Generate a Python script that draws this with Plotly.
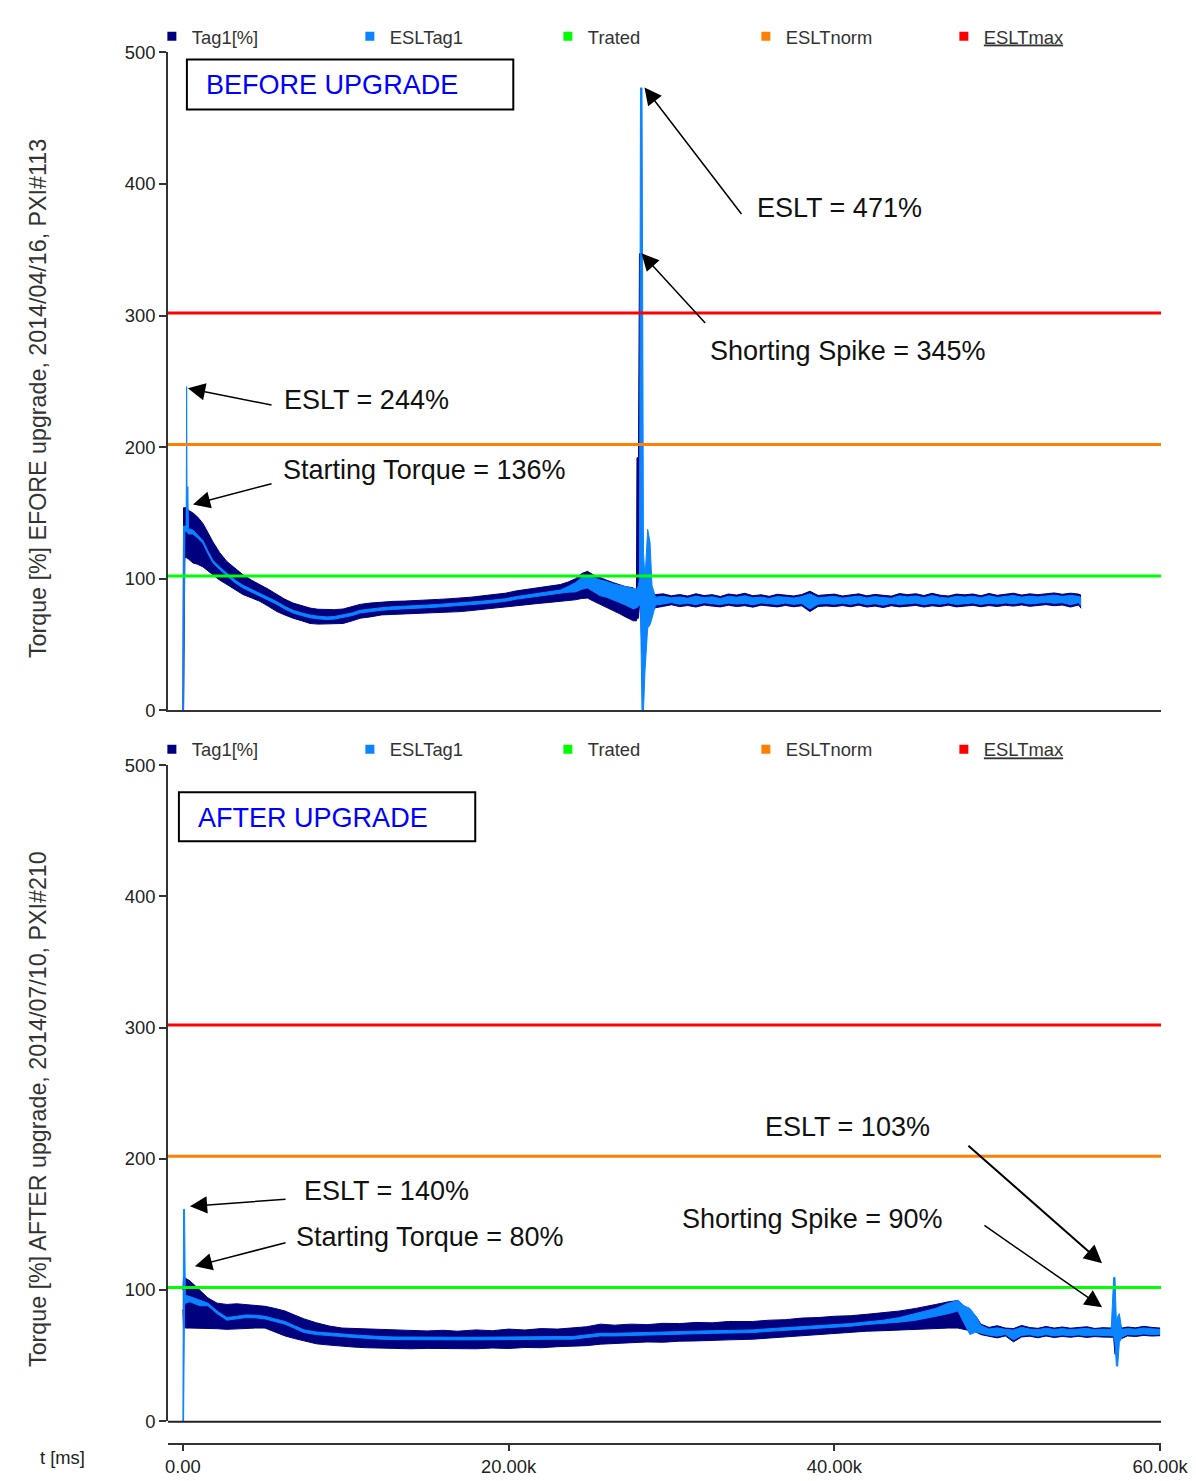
import plotly.graph_objects as go

# Calibration of the photographed page: picture px = S * page px + O.
SX, OX = 0.975, 2.5
SY, OY = 0.986, 9.7
MARGIN = 8          # default body margin of the page
FS = 1.02           # font compensation for the photo scaling
FONT = "Liberation Sans, Arial, sans-serif"


def fx(X):
    return (X - OX) / SX - MARGIN


def fy(Y):
    return (Y - OY) / SY - MARGIN


W = int(round(fx(1196)))
H = int(round(fy(1481)))


def px(X):
    return fx(X) / W


def py(Y):
    return 1 - fy(Y) / H


# ---------------- data ----------------
X_RANGE = [-922, 60061]
Y_TICKS = [0, 100, 200, 300, 400, 500]
X_TICKS = [0, 20000, 40000, 60000]
X_TICK_LABELS = ["0.00", "20.00k", "40.00k", "60.00k"]

TRATED = 102
ESLTNORM = 202
ESLTMAX = 302

# BEFORE upgrade: time [ms], Tag1 envelope (max/min) and ESLTag1 envelope (max/min) in %
TOP_T = [0, 40, 120, 200, 230, 260, 300, 340, 615, 900,
         1230, 1540, 1845, 2250, 2705, 3200, 3690, 4200, 4734, 5250,
         5780, 6250, 6763, 7300, 7808, 8300, 8853, 9300, 9837, 10400,
         10882, 11500, 12200, 12911, 13600, 14300, 15001, 15700, 16400, 17030,
         17700, 18400, 19059, 19800, 20500, 21149, 21800, 22500, 23178, 23650,
         24100, 24500, 24840, 25200, 25637, 26000, 26436, 26800, 27174, 27450,
         27666, 27850, 27881, 27973, 28035, 28097, 28189, 28281, 28373, 28539,
         28680, 28803, 29019,
         29500, 30000, 30500, 31000, 31500, 32000, 32500, 33000, 33500, 34000,
         34500, 35000, 35500, 36000, 36500, 37000, 37500, 38000, 38500, 39000,
         39500, 40000, 40500, 41000, 41500, 42000, 42500, 43000, 43500, 44000,
         44500, 45000, 45500, 46000, 46500, 47000, 47500, 48000, 48500, 49000,
         49500, 50000, 50500, 51000, 51500, 52000, 52500, 53000, 53500, 54000,
         54500, 55000, 55150]
TOP_TAG1_HI = [0, 154, 154, 154, 154, 153, 153, 152, 150, 147,
               142, 135, 128, 120, 113, 108, 103, 99, 95.6, 92,
               88, 84.5, 81.5, 79.5, 77.7, 76.8, 76.5, 76.5, 77, 78.8,
               80.5, 81.5, 82.2, 82.8, 83, 83.6, 84, 84.3, 84.8, 85.3,
               86, 87, 88, 89, 90.8, 92, 93, 94.3, 95.6, 97.5,
               100, 104, 105.6, 103, 100.5, 99, 97, 95.5, 94, 93.5,
               93, 90, 192, 192, 347, 347, 110, 95, 90, 100,
               92, 90, 88,
               88.5, 87.0, 88.0, 86.8, 88.6, 87.2, 87.9, 86.5, 88.4, 87.6,
               88.9, 87.1, 87.8, 86.6, 88.2, 87.4, 86.9, 88.0, 90.5, 87.3,
               87.6, 88.3, 86.9, 87.7, 88.5, 87.0, 88.1, 87.4, 86.8, 88.7,
               87.9, 88.6, 87.2, 88.9, 87.5, 86.9, 88.3, 87.8, 88.4, 87.1,
               88.8, 87.4, 88.1, 89.0, 87.6, 88.5, 87.9, 88.7, 89.2, 88.2,
               89.0, 88.3, 87.5]
TOP_TAG1_LO = [0, 0, 116, 116, 116, 116, 115, 115, 112, 111,
               109, 106, 103, 99, 95.6, 92, 88, 85.5, 82.8, 79,
               75, 72.5, 70, 68, 66, 65.5, 65.6, 65.4, 66, 68,
               70, 71, 72.5, 72.9, 73.2, 73.6, 74, 74.3, 74.6, 75,
               75.8, 76.8, 77.7, 78.5, 79.6, 80.5, 81.2, 82, 82.8, 83.5,
               84, 85, 85.3, 83, 80.5, 78.5, 76, 73.5, 71, 69.5,
               68, 68, 70, 70, 80, 80, 43, 43, 60, 70,
               72, 75, 78,
               79.0, 80.2, 78.8, 79.6, 78.5, 80.0, 79.2, 78.6, 79.8, 78.9,
               79.5, 78.4, 79.9, 79.1, 78.6, 79.7, 78.7, 79.4, 75.0, 78.9,
               79.3, 78.8, 79.6, 78.7, 79.9, 78.5, 79.2, 78.1, 79.5, 78.6,
               79.0, 79.7, 78.5, 79.4, 78.8, 79.9, 78.6, 79.3, 79.8, 78.7,
               79.6, 78.9, 79.8, 79.2, 80.1, 79.0, 79.7, 80.3, 79.5, 80.0,
               78.5, 80.0, 77.5]
TOP_ESLT_HI = [0, 140, 140, 140, 246, 138, 170, 138, 137, 133,
               129, 121, 114, 109, 104, 99, 95, 92, 89, 85.5,
               82.5, 79, 76, 74, 72.4, 71.5, 71, 71.3, 72.4, 74,
               76, 77, 78, 78.7, 79, 79.5, 80, 80.5, 81, 81.5,
               82.2, 83, 83.8, 84.8, 86.5, 87.6, 88.8, 90, 91.4, 94,
               97, 101, 102, 101, 99, 98, 96, 95, 94, 93.5,
               93, 92, 92, 95, 100, 473, 473, 120, 100, 137.5,
               128, 95, 86,
               86.6, 85.5, 86.2, 85.2, 86.8, 85.6, 86.3, 84.9, 86.7, 85.9,
               87.1, 85.5, 86.1, 85.0, 86.5, 85.8, 85.3, 86.4, 88.6, 85.6,
               85.9, 86.6, 85.3, 86.0, 86.8, 85.4, 86.4, 85.7, 85.2, 87.0,
               86.2, 86.9, 85.6, 87.2, 85.8, 85.3, 86.6, 86.1, 86.7, 85.5,
               87.1, 85.8, 86.4, 87.3, 86.0, 86.8, 86.2, 87.0, 87.5, 86.6,
               87.3, 86.6, 85.8]
TOP_ESLT_LO = [0, 0, 136, 136, 136, 135, 135, 134, 134, 131,
               127, 119, 112, 107, 102, 97, 93, 90, 87, 83.5,
               80.5, 77, 74, 72, 70.4, 69.5, 69, 69.3, 70.4, 72,
               74, 75, 76, 76.7, 77, 77.5, 78, 78.5, 79, 79.5,
               80.2, 81, 81.8, 82.8, 84.5, 85.6, 86.8, 88, 89.4, 89.8,
               90, 92, 93, 90, 87, 86, 84, 82, 80, 78.5,
               77, 78, 78, 79, 80, 80, 0, 0, 30, 62.5,
               65, 70, 80,
               80.8, 81.9, 80.6, 81.4, 80.3, 81.8, 81.0, 80.4, 81.5, 80.7,
               81.3, 80.2, 81.6, 80.9, 80.4, 81.5, 80.5, 81.2, 77.0, 80.7,
               81.1, 80.6, 81.4, 80.5, 81.7, 80.3, 81.0, 79.9, 81.3, 80.4,
               80.8, 81.5, 80.3, 81.2, 80.6, 81.7, 80.4, 81.1, 81.6, 80.5,
               81.4, 80.7, 81.6, 81.0, 81.9, 80.8, 81.5, 82.1, 81.3, 81.8,
               80.3, 81.8, 79.3]

# AFTER upgrade
BOT_T = [0, 40, 100, 150, 430, 1045, 1537, 2100, 2705, 3300,
         3873, 4450, 5041, 5650, 6271, 6850, 7439, 8200, 9000, 9775,
         10500, 11300, 12173, 13000, 14000, 15000, 16000, 16846, 18000, 19000,
         20000, 21000, 22000, 23000, 23916, 24800, 25637, 26500, 27500, 28500,
         29500, 30500, 31500, 32500, 33500, 34982, 36000, 37000, 38000, 39000,
         40000, 41000, 41991, 43000, 44000, 45000, 45700, 46233, 47000, 47586,
         47955, 48323, 48692, 49000,
         49500, 50000, 50500, 51000, 51500, 52000, 52500, 53000, 53500, 54000,
         54500, 55000, 55500, 56000, 56500, 57000, 57150, 57230, 57320, 57400,
         57500, 57650, 58000, 58500, 59000, 59500, 60000]
BOT_TAG1_HI = [100, 110, 110, 109, 107, 100, 94, 90, 89, 89.5,
               89, 88.5, 87.6, 86, 84, 81, 78, 75, 72.5, 71,
               70.6, 70.3, 70, 69.5, 69.2, 68.8, 69.3, 68.6, 69.6, 69,
               70.2, 69.5, 70.6, 70.2, 71, 72, 74, 73.2, 74, 73.6,
               74.6, 74.4, 75.3, 75, 76, 76, 77, 77.4, 78.6, 79,
               80, 80.4, 81.5, 82.5, 84, 86, 87.5, 89, 91, 92,
               88, 81, 80, 74,
               71.5, 72.8, 71.0, 70.6, 73.0, 71.4, 70.8, 72.2, 71.0, 71.8,
               70.9, 71.6, 72.0, 70.7, 71.3, 71.0, 79, 79, 72, 72,
               74, 71, 71.8, 71.2, 72.3, 71.5, 71.0]
BOT_TAG1_LO = [85, 72, 72, 71, 71, 71, 71, 70.5, 70, 70.5,
               71, 71, 71, 68, 65, 63, 61, 59, 58, 57,
               56.5, 56, 55.6, 55.4, 55.2, 55.5, 55.3, 55.6, 55.2, 55.8,
               55.4, 56.2, 56, 56.8, 57, 57.6, 58.7, 59.2, 59.6, 60.4,
               60.2, 61, 61.2, 61.8, 62, 62.5, 63.4, 64, 64.8, 65.6,
               66.5, 67.4, 68.6, 69, 69.6, 70.2, 70.6, 71, 71, 71,
               70, 68.6, 68, 66,
               64.5, 63.5, 65.0, 60.5, 64.2, 64.8, 63.6, 64.9, 63.8, 64.6,
               64.0, 64.7, 63.9, 64.5, 64.1, 64.0, 64, 51, 51, 60,
               62, 63, 65.0, 64.6, 65.4, 64.9, 65.2]
BOT_ESLT_HI = [0, 161.5, 161.5, 96, 95, 92, 90, 84, 79, 80,
               81, 80.8, 80, 78, 76, 72.8, 69.6, 68, 67, 66.5,
               65.8, 65, 64.5, 64.2, 64, 64, 64, 64, 64, 64.2,
               64.2, 64.3, 64.4, 64.5, 64.5, 65.5, 67, 67, 67.4, 67.6,
               68, 68.2, 68.8, 69, 69.2, 69.6, 70.5, 71.2, 72, 72.8,
               73.5, 74.4, 75.7, 77, 79, 82, 84, 86, 90, 92,
               88, 86, 80, 73,
               70.3, 71.2, 70.0, 69.5, 71.6, 70.2, 69.8, 71.0, 69.9, 70.6,
               69.8, 70.5, 70.8, 69.7, 70.2, 70.0, 109.6, 109.6, 75, 80,
               82, 70, 70.6, 70.1, 71.1, 70.4, 70.0]
BOT_ESLT_LO = [0, 0, 88, 90, 91, 88, 88, 82, 77, 78,
               79, 78.8, 78, 76, 74, 70.8, 67.6, 66, 65, 64.5,
               63.8, 63, 62.5, 62.2, 62, 62, 62, 62, 62, 62.2,
               62.2, 62.3, 62.4, 62.5, 62.5, 63.5, 65, 65, 65.4, 65.6,
               66, 66.2, 66.8, 67, 67.2, 67.6, 68.5, 69.2, 70, 70.8,
               71.5, 72.4, 73.7, 74.5, 75.5, 77, 78.5, 80, 82, 84,
               75, 66, 68, 67,
               65.6, 64.8, 66.1, 62.0, 65.4, 65.9, 64.8, 66.0, 65.0, 65.7,
               65.2, 65.8, 65.1, 65.6, 65.2, 65.1, 65, 60, 42, 42,
               60, 64, 66.1, 65.7, 66.5, 66.0, 66.3]

SERIES = ["Tag1[%]", "ESLTag1", "Trated", "ESLTnorm", "<u>ESLTmax</u>"]
NAVY = "#00007f"
LBLUE = "#0a84ff"
GREEN = "#00ff00"
ORANGE = "#ff8000"
RED = "#ff0000"
COLORS = [NAVY, LBLUE, GREEN, ORANGE, RED]

fig = go.Figure()


def add_panel(xa, ya, t, n_hi, n_lo, l_hi, l_lo):
    fig.add_trace(go.Scatter(x=t, y=n_lo, mode="lines", line=dict(color=NAVY, width=1),
                             xaxis=xa, yaxis=ya, showlegend=False, hoverinfo="skip"))
    fig.add_trace(go.Scatter(x=t, y=n_hi, mode="lines", line=dict(color=NAVY, width=1),
                             fill="tonexty", fillcolor=NAVY,
                             xaxis=xa, yaxis=ya, showlegend=False, hoverinfo="skip"))
    fig.add_trace(go.Scatter(x=t, y=l_lo, mode="lines", line=dict(color=LBLUE, width=1),
                             xaxis=xa, yaxis=ya, showlegend=False, hoverinfo="skip"))
    fig.add_trace(go.Scatter(x=t, y=l_hi, mode="lines", line=dict(color=LBLUE, width=1),
                             fill="tonexty", fillcolor=LBLUE,
                             xaxis=xa, yaxis=ya, showlegend=False, hoverinfo="skip"))
    for val, col in [(TRATED, GREEN), (ESLTNORM, ORANGE), (ESLTMAX, RED)]:
        fig.add_trace(go.Scatter(x=X_RANGE, y=[val, val], mode="lines",
                                 line=dict(color=col, width=3),
                                 xaxis=xa, yaxis=ya, showlegend=False, hoverinfo="skip"))


add_panel("x", "y", TOP_T, TOP_TAG1_HI, TOP_TAG1_LO, TOP_ESLT_HI, TOP_ESLT_LO)
add_panel("x2", "y2", BOT_T, BOT_TAG1_HI, BOT_TAG1_LO, BOT_ESLT_HI, BOT_ESLT_LO)

# legend entries (square swatches)
for leg, xa, ya in [("legend", "x", "y"), ("legend2", "x2", "y2")]:
    for name, col in zip(SERIES, COLORS):
        fig.add_trace(go.Scatter(x=[None], y=[None], mode="markers", name=name,
                                 marker=dict(symbol="square", size=9, color=col),
                                 xaxis=xa, yaxis=ya, legend=leg, hoverinfo="skip"))

AX_COL = "#333333"
yax = dict(range=[0, 500], tickvals=Y_TICKS, ticks="outside", ticklen=7, tickwidth=1.5,
           tickcolor=AX_COL, showline=True, linecolor=AX_COL, linewidth=1.5,
           showgrid=False, zeroline=False, fixedrange=True,
           tickfont=dict(family=FONT, size=18 * FS, color="#222222"))
xdom = [px(168), px(1160)]

legend_common = dict(orientation="h", xanchor="left", yanchor="middle", x=px(152),
                     entrywidth=153, entrywidthmode="pixels",
                     font=dict(family=FONT, size=18 * FS, color="#333333"),
                     bgcolor="rgba(0,0,0,0)", traceorder="normal", itemclick=False)

fig.update_layout(
    width=W, height=H,
    margin=dict(l=0, r=0, t=0, b=0),
    paper_bgcolor="white", plot_bgcolor="white",
    font=dict(family=FONT, color="#222222"),
    xaxis=dict(domain=xdom, range=X_RANGE, anchor="y", showline=True, linecolor=AX_COL,
               linewidth=1.5, ticks="", showticklabels=False, showgrid=False,
               zeroline=False, fixedrange=True),
    yaxis=dict(domain=[py(709), py(51)], anchor="x", **yax),
    xaxis2=dict(domain=xdom, range=X_RANGE, anchor="free", position=py(1443),
                showline=True, linecolor=AX_COL, linewidth=1.5, ticks="outside",
                ticklen=6, tickwidth=1.5, tickcolor=AX_COL, tickvals=X_TICKS,
                ticktext=X_TICK_LABELS, showgrid=False, zeroline=False, fixedrange=True,
                tickfont=dict(family=FONT, size=18 * FS, color="#222222")),
    yaxis2=dict(domain=[py(1420), py(764)], anchor="x2", **yax),
    legend=dict(y=py(35), **legend_common),
    legend2=dict(y=py(748), **legend_common),
    showlegend=True,
)

shapes = [
    # bottom panel baseline (y = 0), drawn in paper space so it is not clipped
    dict(type="line", xref="paper", yref="paper", x0=px(168), x1=px(1160),
         y0=py(1420.5), y1=py(1420.5), line=dict(color="#222222", width=2)),
    # title boxes
    dict(type="rect", xref="paper", yref="paper", x0=px(187), x1=px(513), y0=py(108), y1=py(58),
         line=dict(color="black", width=2), fillcolor="white", layer="below"),
    dict(type="rect", xref="paper", yref="paper", x0=px(179), x1=px(475), y0=py(840), y1=py(791),
         line=dict(color="black", width=2), fillcolor="white", layer="below"),
    # window shadow on the right edge
    dict(type="rect", xref="paper", yref="paper", x0=px(1189), x1=1, y0=0, y1=py(8),
         line=dict(width=0), fillcolor="#b4b4b4"),
    dict(type="rect", xref="paper", yref="paper", x0=px(1189), x1=px(1192), y0=0, y1=py(8),
         line=dict(width=0), fillcolor="#9a9a9a"),
]
fig.update_layout(shapes=shapes)

ann = []


def label(text, xx, yy, xr, yr, color="#111111"):
    ann.append(dict(text=text, x=xx, y=yy, xref=xr, yref=yr, xanchor="left",
                    yanchor="middle", showarrow=False,
                    font=dict(family=FONT, size=26.5 * FS, color=color)))


def arrow(x_tip, y_tip, x_tail, y_tail, xr, yr, w=1.5):
    ann.append(dict(text="", x=x_tip, y=y_tip, ax=x_tail, ay=y_tail, xref=xr, yref=yr,
                    axref=xr, ayref=yr, showarrow=True, arrowhead=2,
                    arrowsize=2.3 if w < 2 else 1.8,
                    arrowwidth=w, arrowcolor="black", standoff=0))


# box titles
label("BEFORE UPGRADE", px(204), py(84), "paper", "paper", color="#0000ff")
label("AFTER UPGRADE", px(196), py(817), "paper", "paper", color="#0000ff")

# top panel callouts
label("ESLT = 244%", 6100, 235.6, "x", "y")
arrow(307, 244.7, 5533, 231.8, "x", "y")
label("Starting Torque = 136%", 6040, 182.4, "x", "y")
arrow(615, 156.5, 5533, 172.5, "x", "y")
label("ESLT = 471%", 35120, 381.5, "x", "y")
arrow(28342, 473.4, 34368, 376, "x", "y")
label("Shorting Spike = 345%", 32230, 272.8, "x", "y")
arrow(28158, 347.3, 32154, 293.3, "x", "y")

# bottom panel callouts
label("ESLT = 140%", 7330, 175.3, "x2", "y2")
arrow(430, 163.9, 6394, 169.2, "x2", "y2")
label("Starting Torque = 80%", 6840, 140.2, "x2", "y2")
arrow(738, 118.1, 6394, 136.4, "x2", "y2")
label("ESLT = 103%", 35610, 224, "x2", "y2")
arrow(56439, 120.4, 48139, 211, "x2", "y2", w=2)
label("Shorting Spike = 90%", 30510, 154, "x2", "y2")
arrow(56439, 86.9, 49123, 150, "x2", "y2")

# axis titles
ann.append(dict(text="Torque [%] EFORE upgrade, 2014/04/16, PXI#113", x=px(39), y=py(397),
                xref="paper", yref="paper", textangle=-90, showarrow=False,
                xanchor="center", yanchor="middle",
                font=dict(family=FONT, size=22.8 * FS, color="#333333")))
ann.append(dict(text="Torque [%] AFTER upgrade, 2014/07/10, PXI#210", x=px(39), y=py(1108),
                xref="paper", yref="paper", textangle=-90, showarrow=False,
                xanchor="center", yanchor="middle",
                font=dict(family=FONT, size=22.8 * FS, color="#333333")))
ann.append(dict(text="t [ms]", x=px(63), y=py(1456), xref="paper", yref="paper",
                showarrow=False, xanchor="center", yanchor="middle",
                font=dict(family=FONT, size=18 * FS, color="#222222")))

fig.update_layout(annotations=ann)

fig.write_html("out.html", config={"displayModeBar": False})
